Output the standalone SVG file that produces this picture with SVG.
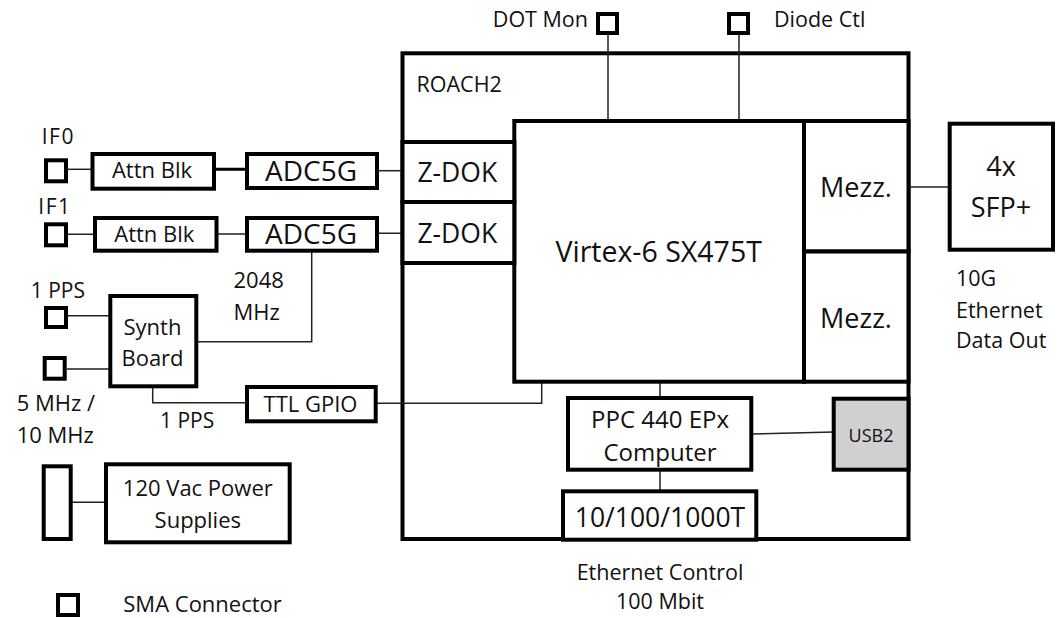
<svg xmlns="http://www.w3.org/2000/svg" width="1061" height="618" viewBox="0 0 1061 618">
<style>
text{font-family:"Open Sans","Liberation Sans",sans-serif;fill:#111;}
.box{fill:#fff;stroke:#000;stroke-width:4;}
.sq{fill:#fff;stroke:#000;stroke-width:4;}
.ln{fill:none;stroke:#222;stroke-width:1.5;}
.c{text-anchor:middle;}
</style>
<rect width="1061" height="618" fill="#fff"/>
<g id="roach2"><rect class="box" x="402.5" y="53.3" width="506" height="485.7"/><text x="416.5" y="91.5" font-size="21.5">ROACH2</text></g>
<g id="connectors">
<path class="ln" d="M608 35V121M739 35V121"/>
<path class="ln" d="M908.5 187H950"/>
<path class="ln" d="M68 169.3H92.5"/>
<path fill="none" stroke="#000" stroke-width="3" d="M214 169.3H247"/>
<path class="ln" d="M377 170.7H402.5"/>
<path class="ln" d="M68 234.3H95M216.5 234H247M377 233.3H402.5"/>
<path class="ln" d="M311.7 251V341.7H196.5"/>
<path class="ln" d="M68 315.7H110M66.7 369H110"/>
<path class="ln" d="M152.7 386.5V402.7H247"/>
<path class="ln" d="M375.7 403.3H541.7V381.7"/>
<path class="ln" d="M660 382V398M660 469.7V491.3"/>
<path class="ln" d="M751.3 434L833.7 432"/>
<path class="ln" d="M70.7 502.3H106"/>
</g>
<g id="virtex"><rect class="box" x="514.3" y="121" width="289.7" height="260.7"/><text class="c" x="658.7" y="262.3" font-size="28.5">Virtex-6 SX475T</text></g>
<g id="mezz1"><rect class="box" x="804" y="121" width="104.5" height="130.5"/><text class="c" x="856" y="197.3" font-size="27">Mezz.</text></g>
<g id="mezz2"><rect class="box" x="804" y="251.5" width="104.5" height="130.2"/><text class="c" x="856" y="328" font-size="27">Mezz.</text></g>
<g id="zdok1"><rect class="box" x="402.5" y="142" width="111.8" height="60"/><text class="c" x="457.3" y="181.7" font-size="26.5">Z-DOK</text></g>
<g id="zdok2"><rect class="box" x="402.5" y="202" width="111.8" height="61"/><text class="c" x="457.3" y="243.3" font-size="26.5">Z-DOK</text></g>
<g id="sfp"><rect class="box" x="949.7" y="123.7" width="103.3" height="126"/><text class="c" x="1001" y="176" font-size="27">4x</text><text class="c" x="1001" y="216.7" font-size="27">SFP+</text></g>
<g id="sfp-label"><text x="956" y="285.7" font-size="21.5">10G</text><text x="956" y="318" font-size="21.5">Ethernet</text><text x="956" y="348" font-size="21.5">Data Out</text></g>
<g id="dotmon"><rect class="sq" x="598" y="14" width="19" height="19"/><text x="588" y="27.3" font-size="21.5" text-anchor="end">DOT Mon</text></g>
<g id="diodectl"><rect class="sq" x="729" y="14" width="19" height="19"/><text x="774" y="27.3" font-size="21.5">Diode Ctl</text></g>
<g id="if0"><rect class="sq" x="46" y="160.3" width="20" height="21"/><text x="41.7" y="144" font-size="21" letter-spacing="1.5">IF0</text></g>
<g id="if1"><rect class="sq" x="46" y="224.3" width="20" height="21"/><text x="38.3" y="214" font-size="21" letter-spacing="1.5">IF1</text></g>
<g id="attn1"><rect class="box" x="92.5" y="154" width="121.5" height="34.7"/><text class="c" x="152" y="178.3" font-size="22">Attn Blk</text></g>
<g id="attn2"><rect class="box" x="95" y="218" width="121.5" height="32.7"/><text class="c" x="154.3" y="241.7" font-size="22">Attn Blk</text></g>
<g id="adc1"><rect class="box" x="247" y="154" width="130" height="34"/><text class="c" x="311" y="180.7" font-size="28">ADC5G</text></g>
<g id="adc2"><rect class="box" x="247" y="218" width="130" height="32.7"/><text class="c" x="311" y="244" font-size="28">ADC5G</text></g>
<g id="clk-label"><text x="233.5" y="288.3" font-size="22">2048</text><text x="233.5" y="320" font-size="22">MHz</text></g>
<g id="pps-in"><rect class="sq" x="46" y="308" width="20" height="19"/><text x="30.7" y="298.3" font-size="21">1 PPS</text></g>
<g id="ref-in"><rect class="sq" x="44.7" y="358" width="20" height="20.7"/><text x="16.7" y="411" font-size="22">5 MHz /</text><text x="16.7" y="442.7" font-size="22">10 MHz</text></g>
<g id="synth"><rect class="box" x="110.3" y="296" width="86" height="90.3"/><text class="c" x="152.5" y="335" font-size="22">Synth</text><text class="c" x="152.5" y="365.7" font-size="22">Board</text></g>
<g id="pps-label"><text x="160" y="427.7" font-size="21">1 PPS</text></g>
<g id="ttl"><rect class="box" x="247" y="387" width="128.7" height="34.3"/><text class="c" x="310.5" y="411.7" font-size="22">TTL GPIO</text></g>
<g id="power-conn"><rect class="sq" x="43.7" y="466.3" width="27" height="72.7"/></g>
<g id="power"><rect class="box" x="106" y="464.3" width="183.7" height="78"/><text class="c" x="197.8" y="496" font-size="22">120 Vac Power</text><text class="c" x="197.8" y="527.7" font-size="22">Supplies</text></g>
<g id="ppc"><rect class="box" x="568" y="398" width="183.3" height="71.7"/><text class="c" x="660" y="427.7" font-size="24">PPC 440 EPx</text><text class="c" x="660" y="461" font-size="24">Computer</text></g>
<g id="usb2"><rect x="833.7" y="398.7" width="74.8" height="71" fill="#d0d0d0" stroke="#000" stroke-width="4"/><text class="c" x="871" y="441.7" font-size="18">USB2</text></g>
<g id="eth"><rect class="box" x="563" y="491.3" width="193.3" height="48.4"/><text class="c" x="660" y="526.7" font-size="26.5">10/100/1000T</text></g>
<g id="eth-label"><text class="c" x="660" y="580" font-size="21.5">Ethernet Control</text><text class="c" x="660" y="609.3" font-size="21.5">100 Mbit</text></g>
<g id="legend"><rect class="sq" x="58" y="595" width="20" height="20"/><text x="123.3" y="612.3" font-size="22">SMA Connector</text></g>
</svg>
